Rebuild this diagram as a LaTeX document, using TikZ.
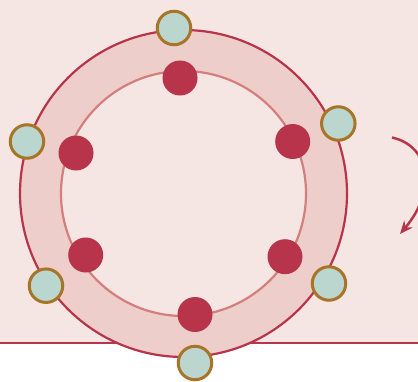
\documentclass[tikz,border=0pt]{standalone}
\usetikzlibrary{arrows.meta}
\definecolor{bgpink}{HTML}{F5E6E4}
\definecolor{ringpink}{HTML}{EDCECA}
\definecolor{deepred}{HTML}{B8344A}
\definecolor{softred}{HTML}{D47E7E}
\definecolor{mint}{HTML}{BBD6CE}
\definecolor{bronze}{HTML}{A87428}
\begin{document}
\begin{tikzpicture}[x=1pt,y=-1pt,
  reddot/.style={circle,fill=deepred,draw=none,minimum size=35pt,inner sep=0pt},
  greendot/.style={circle,fill=mint,draw=bronze,line width=3pt,minimum size=33.5pt,inner sep=0pt}]
\useasboundingbox (0,0) rectangle (418,381);
\fill[white] (0,0) rectangle (418,381);
\fill[bgpink] (0,0) rectangle (418,343);
\draw[deepred,line width=2pt] (0,343) -- (418,343);
\coordinate (c) at (183.5,193.5);
\fill[ringpink] (c) circle (163.5);
\fill[bgpink] (c) circle (122.5);
\draw[deepred,line width=2.2pt] (c) circle (163.5);
\draw[softred,line width=2.2pt] (c) circle (122.5);
% red dots
\node[reddot] (r1) at (180,78) {};
\node[reddot] (r2) at (292.7,141.5) {};
\node[reddot] (r3) at (285,256.7) {};
\node[reddot] (r4) at (195,314.5) {};
\node[reddot] (r5) at (85.7,255) {};
\node[reddot] (r6) at (76,153) {};
% green dots
\node[greendot] (g1) at (174,28) {};
\node[greendot] (g2) at (338.3,123.5) {};
\node[greendot] (g3) at (329,283.5) {};
\node[greendot] (g4) at (195,363) {};
\node[greendot] (g5) at (46,285.7) {};
\node[greendot] (g6) at (27,141.5) {};
% curved arrow
\coordinate (as) at (392,137.5);
\coordinate (ae) at (400,234);
\begin{scope}
\clip (0,0) rectangle (418,343);
\draw[deepred,line width=2.5pt,-{Stealth[length=13pt,width=11pt]}]
  (as) .. controls (430,146) and (437,190) .. (ae);
\end{scope}
\end{tikzpicture}
\end{document}
